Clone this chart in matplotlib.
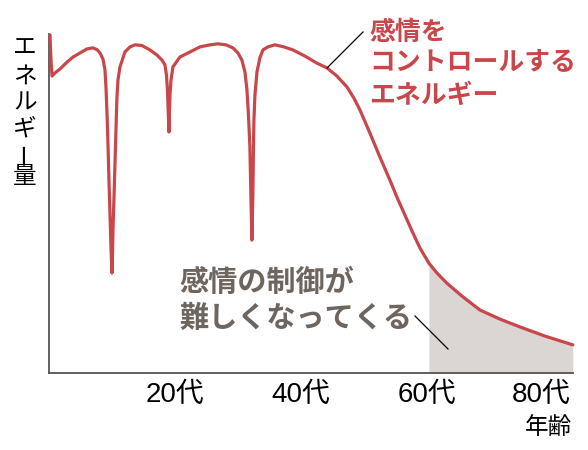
import numpy as np
import matplotlib
matplotlib.use('Agg')
import matplotlib.pyplot as plt
from matplotlib.lines import Line2D
from matplotlib.transforms import offset_copy

# 年齢（歳）
age = np.array([0.16, 0.24, 0.32, 0.48, 0.95, 1.75, 2.86, 3.81, 4.92, 6.03,
                6.98, 7.62, 8.10, 8.57, 8.89, 9.05, 9.21, 9.37, 9.52, 9.68,
                9.84, 10.0, 10.08, 10.16, 10.32, 10.48, 10.63, 10.79, 10.95, 11.27,
                12.06, 12.86, 13.65, 14.76, 16.03, 17.14, 17.94, 18.41, 18.65, 18.81,
                18.89, 19.05, 19.13, 19.21, 19.37, 19.68, 20.32, 20.79, 22.38, 23.97,
                25.56, 26.83, 28.10, 29.21, 30.0, 30.63, 31.11, 31.43, 31.67, 31.90,
                32.06, 32.22, 32.38, 32.46, 32.54, 32.70, 33.02, 33.49, 33.97, 34.76,
                35.87, 37.30, 38.73, 40.63, 42.54, 44.13, 45.71, 47.30, 48.41, 49.37,
                50.95, 52.54, 54.13, 55.24, 56.51, 57.78, 58.89, 60.32, 61.59, 63.17,
                65.56, 68.41, 71.59, 74.76, 78.73, 83.17])
# 感情をコントロールするエネルギー
energy = np.array([99.7, 95.3, 92.3, 87.6, 88.5, 89.7, 91.7, 93.2, 94.4, 95.6,
                   95.9, 95.4, 94.4, 92.6, 89.4, 84.1, 76.7, 67.3, 56.9, 47.2,
                   37.2, 29.5, 34.8, 42.2, 51.9, 61.9, 71.7, 81.4, 86.4, 90.3,
                   94.7, 96.2, 96.8, 96.6, 95.3, 93.8, 92.3, 90.9, 87.9, 83.5,
                   79.1, 71.1, 77.6, 82.0, 86.4, 90.3, 92.0, 93.2, 94.7, 96.2,
                   96.8, 97.1, 96.8, 95.9, 94.4, 92.3, 88.8, 83.5, 76.1, 66.7,
                   51.9, 39.2, 54.0, 65.8, 74.6, 82.0, 88.8, 93.0, 95.3, 96.2,
                   96.8, 96.2, 95.3, 93.5, 91.4, 90.0, 87.6, 84.4, 81.1, 77.6,
                   70.8, 63.7, 56.9, 51.9, 46.6, 41.3, 36.9, 32.4, 29.5, 26.5,
                   22.7, 18.6, 15.9, 13.6, 10.9, 8.3])

tick_pos = [20, 40, 60, 80]
tick_labels = ['20代', '40代', '60代', '80代']
y_label = 'エネルギー量'
x_label = '年齢'
red_text = ['感情を', 'コントロールする', 'エネルギー']
gray_text = ['感情の制御が', '難しくなってくる']
shade_from = 60

RED = '#c9464b'
GRAY_TEXT = '#6d655e'
SHADE = '#dbd6d3'
W, H = 588, 450

plt.rcParams['font.family'] = ['Noto Sans CJK JP', 'DejaVu Sans']

fig = plt.figure(figsize=(W / 100, H / 100), dpi=100)


def px(x, y):
    # 画像ピクセル座標 -> figure座標
    return x / W, 1 - y / H


ax = fig.add_axes([49 / W, 1 - 373 / H, (573 - 49) / W, (373 - 34) / H])
ax.set_xlim(0, 83.2)
ax.set_ylim(0, 100)

# 60代以降の網掛け
mask = age >= shade_from
ax.fill_between(age[mask], 0, energy[mask], color=SHADE, lw=0, zorder=1)

# 曲線
ax.plot(age, energy, color=RED, lw=2.3, solid_joinstyle='round',
        solid_capstyle='round', zorder=3, clip_on=False)

# 軸
for s in ['top', 'right']:
    ax.spines[s].set_visible(False)
for s in ['left', 'bottom']:
    ax.spines[s].set_color('#555555')
    ax.spines[s].set_linewidth(1.3)
ax.set_yticks([])
ax.set_xticks(tick_pos)
ax.set_xticklabels(tick_labels, fontsize=20,
                   family=['Liberation Sans', 'Noto Sans CJK JP'])
ax.tick_params(axis='x', length=0, pad=6.5)
# 最後のラベルは軸内に収める
last = ax.get_xticklabels()[-1]
last.set_transform(offset_copy(last.get_transform(), fig=fig, x=-12, units='dots'))

# 縦書きの軸ラベル
char_y = [47, 76, 103, 129, 153, 176]
for ch, cy in zip(y_label, char_y):
    rot = 90 if ch == 'ー' else 0
    fig.text(*px(25, cy), ch, fontsize=17, ha='center', va='center', rotation=rot)

fig.text(*px(549, 428), x_label, fontsize=17, ha='center', va='center')

# 注釈テキスト
for line, cy in zip(red_text, [32, 63, 95]):
    fig.text(*px(369, cy), line, fontsize=18.6, fontweight='bold', color=RED,
             ha='left', va='center')
for line, cy in zip(gray_text, [282, 318]):
    fig.text(*px(179, cy), line, fontsize=21, fontweight='bold', color=GRAY_TEXT,
             ha='left', va='center')

# 引き出し線
for (x0, y0), (x1, y1) in [((363, 32), (327, 68)), ((415, 316), (448, 349))]:
    a, b = px(x0, y0)
    c, d = px(x1, y1)
    fig.add_artist(Line2D([a, c], [b, d], color='black', lw=0.9, zorder=5))

fig.savefig('out.png', dpi=100)
